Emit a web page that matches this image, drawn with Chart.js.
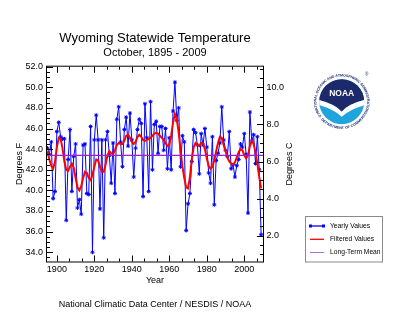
<!DOCTYPE html>
<html>
<head>
<meta charset="utf-8">
<script src="https://cdn.jsdelivr.net/npm/chart.js@4.4.0/dist/chart.umd.min.js"></script>
<style>
    html, body { margin: 0; padding: 0; background: #fff; }
    #wrap { width: 400px; height: 329px; }
</style>
</head>
<body>
<div id="wrap"><canvas id="temp-chart" width="400" height="329"></canvas></div>
<script>
// October statewide temperature for Wyoming (deg F)
const first_year = 1895;
const last_year = 2009;
const years = [];
for (let y = first_year; y <= last_year; y++) years.push(y);

const yearly_values = [
    44.1, 43.5, 44.7, 39.2, 39.9,                                // 1895-1899
    45.7, 46.6, 45.2, 45.0, 45.0, 37.1, 43.0, 45.9, 39.9, 43.3,  // 1900s
    44.5, 38.3, 39.1, 37.7, 44.4, 44.5, 39.7, 39.6, 46.2, 34.0,  // 1910s
    44.9, 47.3, 44.9, 38.2, 44.9, 35.4, 44.9, 45.7, 43.4, 40.7,  // 1920s
    44.6, 39.7, 46.9, 48.1, 44.7, 42.3, 45.9, 47.1, 44.3, 47.5,  // 1930s
    44.9, 41.3, 44.1, 45.9, 46.9, 46.5, 39.4, 48.4, 45.1, 39.9,  // 1940s
    48.6, 42.0, 46.4, 46.7, 43.6, 46.2, 46.2, 43.9, 46.0, 42.1,  // 1950s
    45.1, 42.0, 47.7, 50.5, 46.8, 48.0, 42.3, 45.3, 44.7, 36.1,  // 1960s
    38.7, 39.7, 42.8, 45.9, 45.6, 44.4, 41.6, 45.5, 44.4, 46.0,  // 1970s
    44.2, 41.7, 40.7, 45.2, 38.6, 42.9, 43.6, 44.6, 48.1, 44.9,  // 1980s
    43.9, 43.3, 45.7, 42.1, 42.5, 41.3, 42.4, 43.0, 44.5, 44.2,  // 1990s
    45.5, 43.5, 37.8, 47.6, 44.8, 45.4, 42.6, 45.2, 42.0, 35.7   // 2000s
];

// smoothed red curve
const filtered_values = [
    43.8, 43.0, 42.4, 42.1, 42.8,
    44.2, 45.1, 45.0, 44.1, 42.8, 42.0, 41.9, 42.3, 42.6, 42.2,
    41.2, 40.3, 40.0, 40.4, 41.2, 41.8, 41.7, 41.2, 41.0, 41.5,
    42.3, 43.0, 42.9, 42.3, 41.8, 41.8, 42.5, 43.4, 43.8, 43.6,
    43.5, 43.9, 44.4, 44.6, 44.5, 44.5, 44.8, 45.3, 45.4, 45.1,
    44.7, 44.5, 44.7, 45.2, 45.4, 45.2, 44.9, 44.8, 44.9, 45.0,
    45.1, 45.3, 45.5, 45.6, 45.5, 45.3, 45.1, 44.9, 44.6, 44.3,
    44.4, 45.3, 46.6, 47.4, 46.9, 45.6, 43.9, 42.3, 41.2, 40.3,
    40.2, 41.3, 43.0, 44.2, 44.6, 44.4, 44.3, 44.6, 44.6, 44.0,
    43.1, 42.4, 42.1, 42.3, 42.9, 43.8, 44.6, 45.2, 45.1, 44.4,
    43.8, 43.2, 42.8, 42.6, 42.5, 42.7, 43.2, 43.7, 44.0, 43.9,
    43.4, 43.1, 43.4, 44.3, 44.8, 44.5, 43.7, 42.6, 41.3, 40.2
];

const long_term_mean = 43.4;

// tick labels
const year_ticks = [1900, 1920, 1940, 1960, 1980, 2000];
const f_ticks = [34, 36, 38, 40, 42, 44, 46, 48, 50, 52];
const c_ticks = [2, 4, 6, 8, 10];

const font_family = "'Liberation Sans', Arial, Helvetica, sans-serif";
const x_min = 1894.73;
const x_max = 2010.0;
const y_min = 33.1;
const y_max = 52.0;
const to_c = (f) => (f - 32) * 5 / 9;

// Draw text along a circle (used for the NOAA seal)
function arc_text(ctx, text, cx, cy, radius, center_angle, top) {
    const chars = [...text];
    const widths = chars.map((ch) => ctx.measureText(ch).width);
    const span = widths.reduce((a, b) => a + b, 0) / radius;
    let angle = top ? center_angle - span / 2 : center_angle + span / 2;
    ctx.textAlign = "center";
    ctx.textBaseline = "middle";
    chars.forEach((ch, i) => {
        const half = widths[i] / 2 / radius;
        angle += top ? half : -half;
        ctx.save();
        ctx.translate(cx + radius * Math.cos(angle), cy + radius * Math.sin(angle));
        ctx.rotate(top ? angle + Math.PI / 2 : angle - Math.PI / 2);
        ctx.fillText(ch, 0, 0);
        ctx.restore();
        angle += top ? half : -half;
    });
}

function draw_noaa_logo(ctx, cx, cy) {
    const r_in = 22.5;
    ctx.save();
    ctx.fillStyle = "#1c2d6e";
    ctx.font = "bold 3.6px " + font_family;
    arc_text(ctx, "NATIONAL OCEANIC AND ATMOSPHERIC ADMINISTRATION", cx, cy, 26.3, -Math.PI / 2, true);
    arc_text(ctx, "U.S. DEPARTMENT OF COMMERCE", cx, cy, 26.3, Math.PI / 2, false);
    ctx.font = "4.5px " + font_family;
    ctx.fillText("\u00ae", cx + 25, cy - 27);

    // inner disk: navy sky, white gull, blue sea
    ctx.beginPath();
    ctx.arc(cx, cy, r_in, 0, 2 * Math.PI);
    ctx.fillStyle = "#1fa4dd";
    ctx.fill();
    ctx.clip();
    ctx.beginPath();
    ctx.moveTo(cx - 24, cy - 24);
    ctx.lineTo(cx + 24, cy - 24);
    ctx.lineTo(cx + 24, cy - 2);
    ctx.quadraticCurveTo(cx + 7, cy + 2, cx, cy + 10);
    ctx.quadraticCurveTo(cx - 7, cy + 2, cx - 24, cy - 2);
    ctx.closePath();
    ctx.fillStyle = "#1c2a6b";
    ctx.fill();
    ctx.beginPath();
    ctx.moveTo(cx + 24, cy - 2);
    ctx.quadraticCurveTo(cx + 7, cy + 2, cx, cy + 10);
    ctx.quadraticCurveTo(cx - 7, cy + 2, cx - 24, cy - 2);
    ctx.lineTo(cx - 24, cy + 3);
    ctx.quadraticCurveTo(cx - 7, cy + 8, cx, cy + 15);
    ctx.quadraticCurveTo(cx + 7, cy + 8, cx + 24, cy + 3);
    ctx.closePath();
    ctx.fillStyle = "#ffffff";
    ctx.fill();
    ctx.restore();

    ctx.save();
    ctx.fillStyle = "#ffffff";
    ctx.font = "bold 8.5px " + font_family;
    ctx.textAlign = "center";
    ctx.textBaseline = "middle";
    ctx.fillText("NOAA", cx, cy - 8);
    ctx.restore();
}

// Frame, inward ticks, titles, legend box and seal, drawn the IDL way
const decor_plugin = {
    id: "decor",
    afterDraw(chart) {
        const ctx = chart.ctx;
        const area = chart.chartArea;
        const xs = chart.scales.x;
        const ys = chart.scales.y;
        const yc = chart.scales.y2;
        ctx.save();
        ctx.strokeStyle = "#000";
        ctx.lineWidth = 1;
        ctx.strokeRect(area.left - 0.5, area.top - 0.5, area.right - area.left + 1, area.bottom - area.top + 1);

        ctx.beginPath();
        // year ticks, bottom and top, three minor intervals per 20 years
        for (let k = -1; k <= 17; k++) {
            const v = 1900 + k * 20 / 3;
            if (v < x_min || v > x_max) continue;
            const px = Math.round(xs.getPixelForValue(v)) + 0.5;
            const len = k % 3 === 0 ? 6 : 3;
            ctx.moveTo(px, area.bottom); ctx.lineTo(px, area.bottom - len);
            ctx.moveTo(px, area.top); ctx.lineTo(px, area.top + len);
        }
        // deg F ticks on the left
        for (let v = 33.5; v <= y_max; v += 0.5) {
            const py = Math.round(ys.getPixelForValue(v)) + 0.5;
            const len = v % 2 === 0 ? 6 : 3;
            ctx.moveTo(area.left, py); ctx.lineTo(area.left + len, py);
        }
        // deg C ticks on the right
        for (let v = 1.0; v <= to_c(y_max); v += 0.5) {
            if (v < to_c(y_min)) continue;
            const py = Math.round(yc.getPixelForValue(v)) + 0.5;
            const len = v % 2 === 0 ? 6 : 3;
            ctx.moveTo(area.right, py); ctx.lineTo(area.right - len, py);
        }
        ctx.stroke();

        // titles
        const mid_x = (area.left + area.right) / 2;
        ctx.fillStyle = "#000";
        ctx.textAlign = "center";
        ctx.textBaseline = "middle";
        ctx.font = "13px " + font_family;
        ctx.fillText("Wyoming Statewide Temperature", mid_x, 38.5);
        ctx.font = "11px " + font_family;
        ctx.fillText("October, 1895 - 2009", mid_x, 53);
        ctx.font = "9px " + font_family;
        ctx.fillText("Year", mid_x, 281);
        ctx.fillText("National Climatic Data Center / NESDIS / NOAA", mid_x, 305);
        const mid_y = (area.top + area.bottom) / 2;
        [["Degrees F", 20], ["Degrees C", 290]].forEach(([txt, x]) => {
            ctx.save();
            ctx.translate(x, mid_y);
            ctx.rotate(-Math.PI / 2);
            ctx.fillText(txt, 0, 0);
            ctx.restore();
        });

        // legend box
        ctx.strokeStyle = "#8a8a8a";
        ctx.strokeRect(305.5, 216.5, 77, 45.5);
        const rows = [226, 239.3, 252.5];
        chart.data.datasets.forEach((ds, i) => {
            const y = rows[i];
            ctx.strokeStyle = ds.legendColor;
            ctx.lineWidth = i === 2 ? 1 : 1.3;
            ctx.beginPath();
            ctx.moveTo(310, y); ctx.lineTo(324, y);
            ctx.stroke();
            if (ds.pointRadius > 0) {
                ctx.fillStyle = ds.legendColor;
                ctx.fillRect(309, y - 1.5, 3, 3);
                ctx.fillRect(322, y - 1.5, 3, 3);
            }
            ctx.fillStyle = "#000";
            ctx.textAlign = "left";
            ctx.font = "6.7px " + font_family;
            ctx.fillText(ds.label, 330, y);
        });
        ctx.restore();

        draw_noaa_logo(ctx, 341.7, 101.7);
    }
};

const config = {
    type: "line",
    data: {
        datasets: [{
            label: "Yearly Values",
            data: years.map((y, i) => ({ x: y, y: yearly_values[i] })),
            borderColor: "#0000ff",
            backgroundColor: "#0000ff",
            legendColor: "#0000ff",
            borderWidth: 1,
            pointStyle: "star",
            pointRadius: 2,
            pointBorderWidth: 1,
            order: 2
        }, {
            label: "Filtered Values",
            data: years.map((y, i) => ({ x: y, y: filtered_values[i] })),
            borderColor: "#ff0000",
            legendColor: "#ff0000",
            borderWidth: 2,
            pointRadius: 0,
            order: 1
        }, {
            label: "Long-Term Mean",
            data: [{ x: x_min, y: long_term_mean }, { x: x_max, y: long_term_mean }],
            borderColor: "#9a1fd6",
            legendColor: "#a070e0",
            borderWidth: 1.2,
            pointRadius: 0,
            order: 0
        }]
    },
    options: {
        responsive: false,
        animation: false,
        devicePixelRatio: 1,
        layout: { padding: { top: 66.7, left: 0, right: 0, bottom: 0 } },
        elements: { line: { tension: 0 } },
        plugins: {
            legend: { display: false },
            title: { display: false },
            tooltip: { enabled: false }
        },
        scales: {
            x: {
                type: "linear",
                position: "bottom",
                min: x_min,
                max: x_max,
                grid: { display: false, drawTicks: false },
                border: { display: false },
                afterBuildTicks: (scale) => { scale.ticks = year_ticks.map((v) => ({ value: v })); },
                afterFit: (scale) => { scale.height = 67.5; },
                ticks: {
                    padding: 3,
                    color: "#000",
                    maxRotation: 0,
                    autoSkip: false,
                    font: { family: font_family, size: 9 },
                    callback: (v) => String(v)
                }
            },
            y: {
                position: "left",
                min: y_min,
                max: y_max,
                grid: { display: false, drawTicks: false },
                border: { display: false },
                afterBuildTicks: (scale) => { scale.ticks = f_ticks.map((v) => ({ value: v })); },
                afterFit: (scale) => { scale.width = 47; },
                ticks: {
                    padding: 4,
                    color: "#000",
                    font: { family: font_family, size: 9 },
                    callback: (v) => Number(v).toFixed(1)
                }
            },
            y2: {
                position: "right",
                min: to_c(y_min),
                max: to_c(y_max),
                grid: { display: false, drawTicks: false },
                border: { display: false },
                afterBuildTicks: (scale) => { scale.ticks = c_ticks.map((v) => ({ value: v })); },
                afterFit: (scale) => { scale.width = 137; },
                ticks: {
                    padding: 3.5,
                    color: "#000",
                    font: { family: font_family, size: 9 },
                    callback: (v) => Number(v).toFixed(1)
                }
            }
        }
    },
    plugins: [decor_plugin]
};

const temp_chart = new Chart(document.getElementById("temp-chart").getContext("2d"), config);
</script>
</body>
</html>
